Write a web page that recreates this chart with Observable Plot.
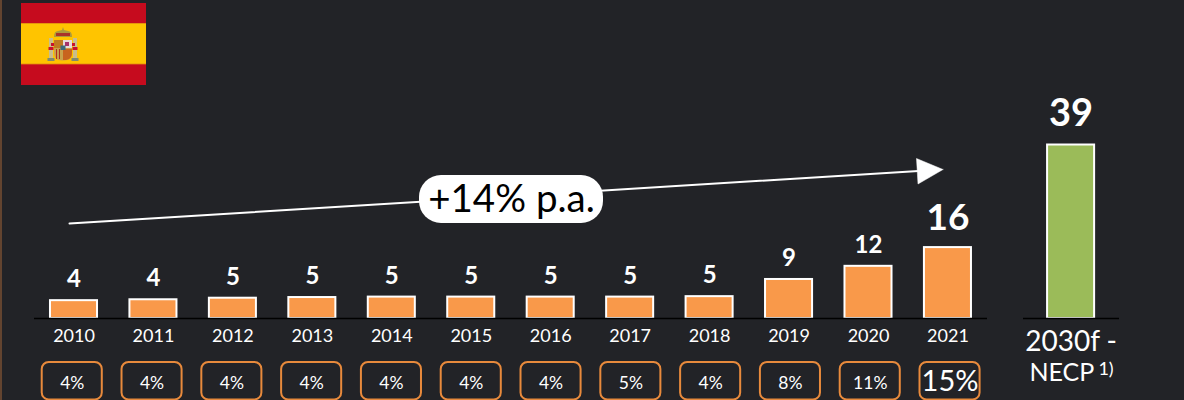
<!DOCTYPE html>
<html>
<head>
<meta charset="utf-8">
<style>
html,body{margin:0;padding:0;background:#222327;overflow:hidden}
svg{display:block}
</style>
<script src="https://cdn.jsdelivr.net/npm/d3@7"></script>
<script src="https://cdn.jsdelivr.net/npm/@observablehq/plot@0.6"></script>
</head>
<body>
<div id="chart"></div>
<script>
const years = [2010,2011,2012,2013,2014,2015,2016,2017,2018,2019,2020,2021];
const values = [4.0,4.2,4.55,4.7,4.8,4.8,4.8,4.8,4.9,8.75,11.7,15.9];
const valueLabels = ["4","4","5","5","5","5","5","5","5","9","12","16"];
const shares = ["4%","4%","4%","4%","4%","4%","4%","5%","4%","8%","11%","15%"];
const forecastValue = 38.9;
const forecastLabel = "39";
const growthLabel = "+14% p.a.";

const FONT = "Lato, Carlito, sans-serif";
const WHITE = "#ffffff", BG = "#222327", ORANGE = "#F9994A", GREEN = "#9BBB59", PILL = "#E88A3C";
const barHalf = 0.296;
const forecastX = 2022.55;
const table = years.map((year,i)=>({year,value:values[i],label:valueLabels[i],share:shares[i],
  pillX:2009.978+i*1.0044,big:year===2021}));

// pixel placements for annotations mapped into the scales
const pxX = p => 2010+(p-73.5)/79.45;
const pxY = p => (318-p)/4.46;

const arrowShaft = [{x:pxX(69),y:pxY(223)},{x:pxX(918),y:pxY(170.5)}];
const arrowHead = [[942.5,169],[916,158],[917.5,183.5],[942.5,169]].map(([a,b])=>({x:pxX(a),y:pxY(b)}));

function flag(){
  const g = d3.create("svg:g");
  const r=(x,y,w,h,f)=>g.append("rect").attr("x",x).attr("y",y).attr("width",w).attr("height",h).attr("fill",f);
  r(21,3,125,82,"#C60B1E");
  r(21,23,125,41,"#FFC400");
  r(21,23,125,.8,"#E08A10"); r(21,63.6,125,.8,"#E08A10");
  // coat of arms
  r(49,38,4,22,"#C9BE8C"); r(73,38,4,22,"#C9BE8C");
  r(47.5,58,7,3,"#7f8a70"); r(71.5,58,7,3,"#7f8a70");
  r(48.5,47,5,3,"#C8102E"); r(72.5,47,5,3,"#C8102E");
  r(51,43,4,3,"#C8102E"); r(71,43,4,3,"#C8102E");
  g.append("path").attr("d","M54 37 Q54 31 58 31 L62 30 L63 27 L64 30 L68 31 Q72 31 72 37 Z").attr("fill","#AD9A3A");
  r(56,33,14,3,"#A8322A");
  g.append("path").attr("d","M54 40 H72 V53 Q72 61 63 60.5 Q54 61 54 53 Z").attr("fill","#C9A24A");
  r(63,40,9,8,"#E8DCD8");
  r(65,42,4,4,"#A8326A");
  r(54,40,9,8,"#C07A20");
  r(56,49,1,10,"#B03020"); r(59,49,1,10,"#B03020");
  g.append("path").attr("d","M63 49 H72 V53 Q72 59 66 60 L63 60 Z").attr("fill","#C8641E");
  r(60.5,45.5,5,4.5,"#3E6A7A");
  return g.node();
}

const chart = Plot.plot({
  width:1184,height:400,
  marginTop:0,marginBottom:0,marginLeft:0,marginRight:0,
  style:{background:BG,fontFamily:FONT},
  x:{type:"linear",domain:[pxX(0),pxX(1184)],axis:null},
  y:{type:"linear",domain:[pxY(400),pxY(0)],axis:null},
  marks:[
    Plot.ruleX([pxX(.5)],{stroke:"#7a5033",strokeWidth:1.5}),
    flag,
    // bars
    Plot.rect(table,{x1:d=>d.year-barHalf,x2:d=>d.year+barHalf,y1:0,y2:"value",fill:ORANGE,stroke:WHITE,strokeWidth:2}),
    Plot.rect([forecastValue],{x1:forecastX-barHalf,x2:forecastX+barHalf,y1:0,y2:d=>d,fill:GREEN,stroke:WHITE,strokeWidth:2}),
    // baselines
    Plot.ruleY([0],{x1:pxX(34),x2:pxX(987),stroke:"#000",strokeWidth:1.5}),
    Plot.ruleY([0],{x1:pxX(1023),x2:pxX(1119),stroke:"#000",strokeWidth:1.5}),
    // value labels
    Plot.text(table.filter(d=>!d.big),{x:"year",y:"value",text:"label",dy:-21,fontSize:24,fontWeight:700,fill:WHITE}),
    Plot.text(table.filter(d=>d.big),{x:"year",y:"value",text:"label",dy:-29,fontSize:37,fontWeight:700,fill:WHITE}),
    Plot.text([forecastLabel],{x:forecastX,y:forecastValue,text:d=>d,dy:-31,fontSize:38,fontWeight:700,fill:WHITE}),
    // year labels
    Plot.text(table,{x:"year",y:0,text:d=>String(d.year),dy:18,fontSize:18,fill:WHITE}),
    Plot.text(["2030f -"],{x:forecastX,y:0,text:d=>d,dy:23.5,fontSize:28,fill:WHITE}),
    Plot.text(["NECP"],{x:forecastX-0.117,y:0,text:d=>d,dy:54.5,fontSize:25,fill:WHITE}),
    Plot.text(["1)"],{x:forecastX+0.44,y:0,text:d=>d,dy:50.5,fontSize:18,fill:WHITE}),
    // share pills
    Plot.rect(table,{x1:d=>d.pillX-0.378,x2:d=>d.pillX+0.378,y1:pxY(399.4),y2:pxY(362),rx:7,fill:"none",stroke:PILL,strokeWidth:2}),
    Plot.text(table.filter(d=>!d.big),{x:"pillX",y:pxY(383),text:"share",fontSize:17.5,fill:WHITE}),
    Plot.text(table.filter(d=>d.big),{x:"pillX",y:pxY(381.5),text:"share",fontSize:29,fill:WHITE}),
    // growth arrow
    Plot.line(arrowShaft,{x:"x",y:"y",stroke:WHITE,strokeWidth:2}),
    Plot.line(arrowHead,{x:"x",y:"y",fill:WHITE,stroke:WHITE,strokeWidth:.5}),
    Plot.rect([growthLabel],{x1:pxX(419),x2:pxX(603),y1:pxY(223),y2:pxY(175),rx:22,fill:WHITE}),
    Plot.text([growthLabel],{x:pxX(511),y:pxY(199),text:d=>d,fontSize:38.5,fill:"#000"})
  ]
});
document.getElementById("chart").appendChild(chart);
</script>
</body>
</html>
